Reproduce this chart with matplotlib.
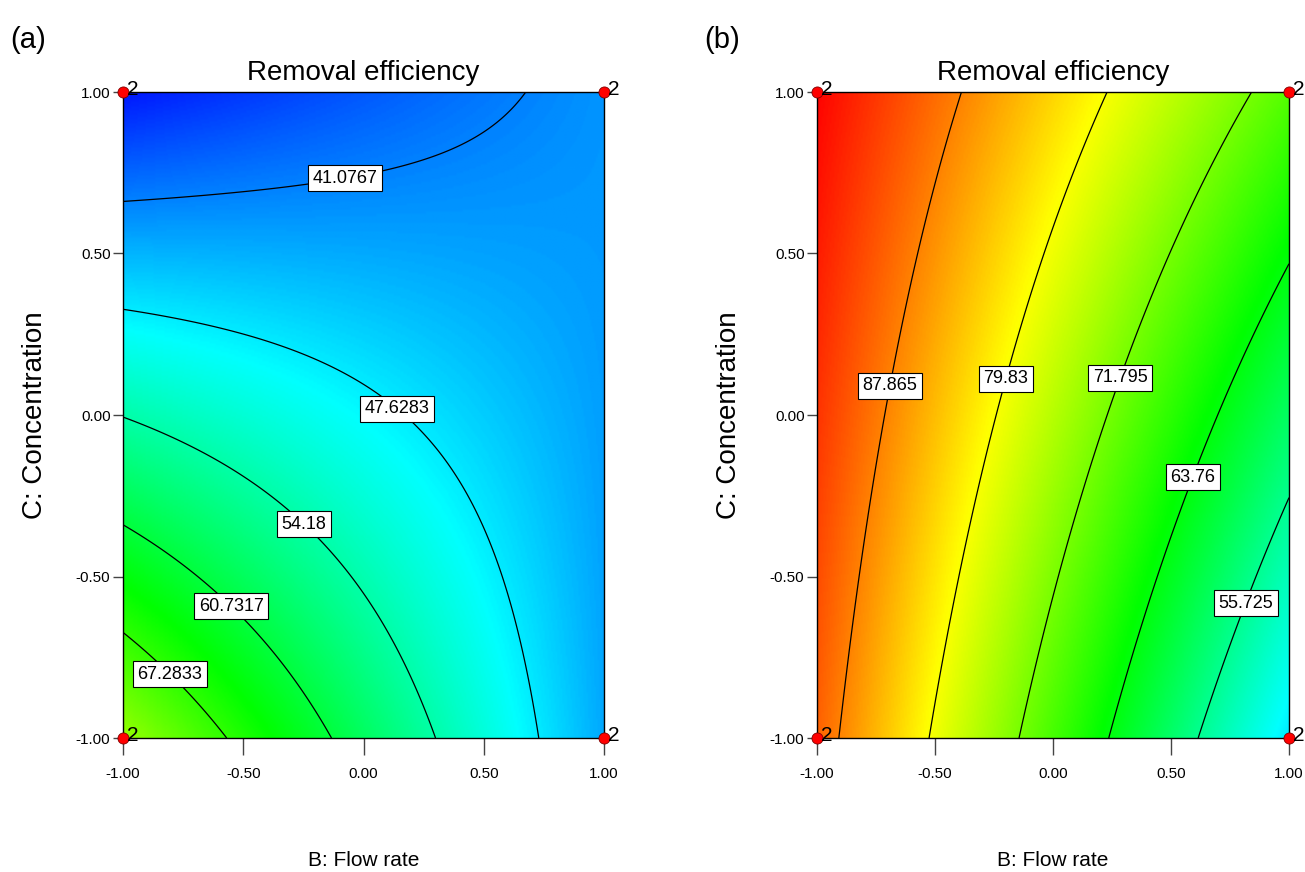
import numpy as np
import matplotlib
matplotlib.use("Agg")
import matplotlib.pyplot as plt
from matplotlib.colors import LinearSegmentedColormap

coded = [-1.0, 0.0, 1.0]

# Removal efficiency read at the 3x3 grid (rows: C = -1, 0, 1; cols: B = -1, 0, 1)
resp_a = [[73.8, 58.6, 43.5],
          [53.9, 48.8, 42.8],
          [34.5, 38.4, 42.3]]
resp_b = [[89.8, 68.8, 47.5],
          [92.7, 75.7, 58.6],
          [95.8, 82.8, 69.7]]

levels_a = [41.0767, 47.6283, 54.18, 60.7317, 67.2833]
levels_b = [55.725, 63.76, 71.795, 79.83, 87.865]

# design points (corners) and replicate counts
design_B = [-1, 1, -1, 1]
design_C = [-1, -1, 1, 1]
design_n = [2, 2, 2, 2]

ticks = [-1.0, -0.5, 0.0, 0.5, 1.0]

narrow = ['Liberation Sans Narrow', 'Liberation Sans', 'DejaVu Sans']
regular = ['Liberation Sans', 'DejaVu Sans']

cmap = LinearSegmentedColormap.from_list(
    'dx', ['#0000ff', '#00ffff', '#00ff00', '#ffff00', '#ff0000'])
vmin, vmax = 33.0, 96.0


def fit_quadratic(resp):
    # full second-order model fitted to the read grid values
    B, C = np.meshgrid(coded, coded)
    B, C, y = B.ravel(), C.ravel(), np.array(resp).ravel()
    X = np.column_stack([np.ones_like(B), B, C, B * C, B ** 2, C ** 2])
    coef = np.linalg.lstsq(X, y, rcond=None)[0]
    return coef


def surface(coef, n=300):
    g = np.linspace(-1, 1, n)
    B, C = np.meshgrid(g, g)
    Z = (coef[0] + coef[1] * B + coef[2] * C + coef[3] * B * C
         + coef[4] * B ** 2 + coef[5] * C ** 2)
    return B, C, Z


def draw_panel(ax, resp, levels, label_pos, letter):
    B, C, Z = surface(fit_quadratic(resp))
    ax.imshow(Z, extent=[-1, 1, -1, 1], origin='lower', cmap=cmap,
              vmin=vmin, vmax=vmax, aspect='auto', interpolation='bilinear')
    cs = ax.contour(B, C, Z, levels=levels, colors='black', linewidths=0.9)
    txts = ax.clabel(cs, fmt=lambda v: '{:g}'.format(v), manual=label_pos,
                     inline=False, fontsize=13)
    for t in txts:
        t.set_fontfamily(narrow)
        t.set_bbox(dict(facecolor='white', edgecolor='black', linewidth=0.8,
                        boxstyle='square,pad=0.25'))
        t.set_rotation(0)
        t.set_zorder(5)

    ax.plot(design_B, design_C, 'o', ms=8, mfc='red', mec='#800000', mew=0.6,
            clip_on=False, zorder=10)
    for b, c, n in zip(design_B, design_C, design_n):
        ax.annotate(str(n), (b, c), xytext=(3, 1.5), textcoords='offset points',
                    fontsize=15, family=narrow, va='center', ha='left',
                    annotation_clip=False, zorder=11)

    ax.set_xlim(-1, 1)
    ax.set_ylim(-1, 1)
    ax.set_xticks(ticks)
    ax.set_yticks(ticks)
    ax.set_xticklabels(['{:.2f}'.format(t) for t in ticks], family=narrow, fontsize=11)
    ax.set_yticklabels(['{:.2f}'.format(t) for t in ticks], family=narrow, fontsize=11)
    ax.tick_params(axis='x', direction='out', length=12, width=1, color='#444444', pad=9)
    ax.tick_params(axis='y', direction='out', length=7, width=1, color='#444444', pad=2)
    for s in ax.spines.values():
        s.set_linewidth(1.0)

    ax.set_title('Removal efficiency', family=narrow, fontsize=20, pad=9)

    bb = ax.get_position()
    xc = (bb.x0 + bb.x1) / 2
    fig.text(xc, 12 / 872, 'B: Flow rate', family=regular, fontsize=15,
             ha='center', va='center')
    fig.text(bb.x0 - 88 / 1305, (bb.y0 + bb.y1) / 2, 'C: Concentration',
             family=regular, fontsize=20, rotation=90, ha='center', va='center')
    fig.text(bb.x0 - 113 / 1305, 0.97, letter, fontsize=21, family=regular,
             ha='left', va='top')


fig = plt.figure(figsize=(13.05, 8.72), dpi=100)
ax_a = fig.add_axes([123 / 1305, 134 / 872, 481 / 1305, 646 / 872])
ax_b = fig.add_axes([817 / 1305, 134 / 872, 472 / 1305, 646 / 872])

pos_a = [(-0.085, 0.768), (0.16, 0.037), (-0.22, -0.316), (-0.526, -0.573), (-0.78, -0.783)]
pos_b = [(0.805, -0.579), (0.58, -0.189), (0.242, 0.127), (-0.212, 0.115), (-0.703, 0.093)]

draw_panel(ax_a, resp_a, levels_a, pos_a, '(a)')
draw_panel(ax_b, resp_b, levels_b, pos_b, '(b)')

fig.savefig('out.png', dpi=100)
